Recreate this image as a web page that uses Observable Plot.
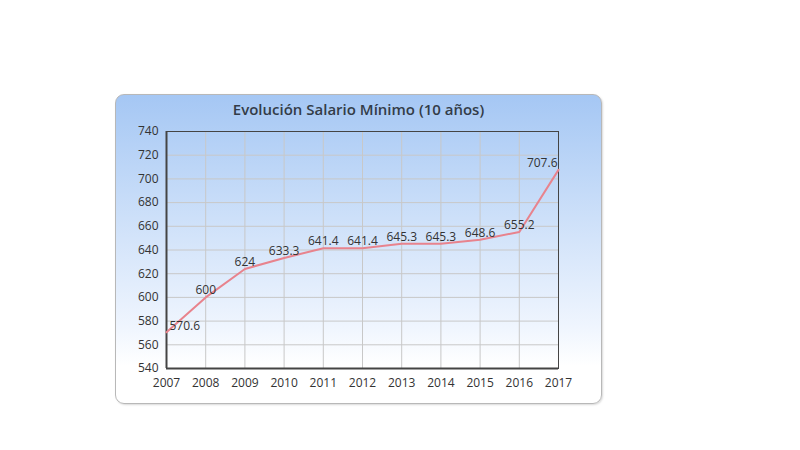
<!DOCTYPE html>
<html>
<head>
<meta charset="utf-8">
<script src="https://cdn.jsdelivr.net/npm/d3@7"></script>
<script src="https://cdn.jsdelivr.net/npm/@observablehq/plot@0.6"></script>
<style>
  html, body { margin: 0; padding: 0; background: #fff; }
  #wrap { position: relative; width: 800px; height: 450px; overflow: hidden; }
  #box {
    position: absolute; left: 115px; top: 94px; width: 485px; height: 308px;
    border: 1px solid #b8b8b8; border-radius: 9px;
    background: linear-gradient(to bottom, #a5c7f4 0%, #cde0f9 40%, #eff5fe 75%, #ffffff 88%, #ffffff 100%);
    box-shadow: 1px 1px 2px rgba(0,0,0,0.15);
  }
  #title {
    position: absolute; left: 115px; width: 487px; top: 99px; text-align: center;
    font-family: "Open Sans", sans-serif; font-weight: 600; font-size: 15px; color: #333c48;
  }
  #chart { position: absolute; left: 0; top: 0; }
</style>
</head>
<body>
<div id="wrap">
  <div id="box"></div>
  <div id="title">Evolución Salario Mínimo (10 años)</div>
  <div id="chart"></div>
</div>
<script>
const years = [2007, 2008, 2009, 2010, 2011, 2012, 2013, 2014, 2015, 2016, 2017];
const salario = [570.6, 600, 624, 633.3, 641.4, 641.4, 645.3, 645.3, 648.6, 655.2, 707.6];
const yTicks = [540, 560, 580, 600, 620, 640, 660, 680, 700, 720, 740];
const labels = ["570.6", "600", "624", "633.3", "641.4", "641.4", "645.3", "645.3", "648.6", "655.2", "707.6"];

const data = years.map((y, i) => ({year: y, value: salario[i], label: labels[i], i}));
const last = data.length - 1;

const plot = Plot.plot({
  width: 800,
  height: 450,
  marginLeft: 166,
  marginRight: 242,
  marginTop: 131,
  marginBottom: 82,
  style: {background: "transparent", fontFamily: "'Open Sans', sans-serif", fontSize: "12px", color: "#333"},
  x: {domain: [2007, 2017], ticks: years, tickFormat: d => String(d), label: null},
  y: {domain: [540, 740], ticks: yTicks, label: null},
  marks: [
    Plot.gridX(years, {stroke: "#c8c8c8", strokeOpacity: 1, strokeWidth: 1}),
    Plot.gridY(yTicks, {stroke: "#c8c8c8", strokeOpacity: 1, strokeWidth: 1}),
    Plot.axisX({ticks: years, tickSize: 0, tickPadding: 10, fontSize: 12, fill: "#333", tickFormat: d => String(d)}),
    Plot.axisY({ticks: yTicks, tickSize: 0, tickPadding: 8, fontSize: 12, fill: "#333"}),
    Plot.frame({stroke: "#444", strokeWidth: 1}),
    Plot.ruleX([2007], {stroke: "#444", strokeWidth: 2}),
    Plot.ruleY([540], {stroke: "#444", strokeWidth: 2}),
    Plot.line(data, {x: "year", y: "value", stroke: "#e8838d", strokeWidth: 2}),
    Plot.text(data.filter(d => d.i > 0 && d.i < last), {x: "year", y: "value", text: "label", dy: -7, fill: "#333", fontSize: 12}),
    Plot.text(data.filter(d => d.i === 0), {x: "year", y: "value", text: "label", dy: -6, dx: 3, textAnchor: "start", fill: "#333", fontSize: 12}),
    Plot.text(data.filter(d => d.i === last), {x: "year", y: "value", text: "label", dy: -7, dx: -1, textAnchor: "end", fill: "#333", fontSize: 12})
  ]
});
document.getElementById("chart").appendChild(plot);
</script>
</body>
</html>
